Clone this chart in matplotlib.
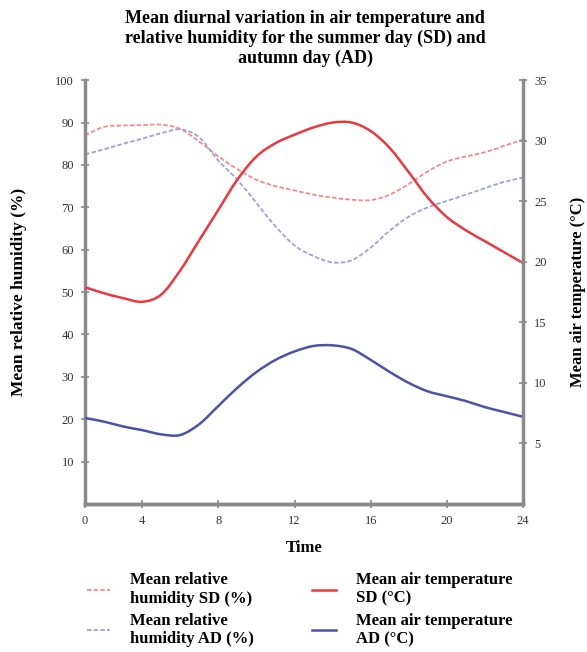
import numpy as np
import matplotlib.pyplot as plt
from matplotlib.path import Path
from matplotlib.patches import PathPatch
from matplotlib.lines import Line2D

# hourly readings (1..24 h), the first hour is labelled 0 on the axis
hours = np.arange(1, 25)

rh_sd = [87, 89, 89.3, 89.4, 89.5, 88.5, 85.5, 82, 79, 76.5, 75, 74,
         73, 72.3, 71.8, 71.7, 73, 75.5, 78.5, 80.8, 82, 83, 84.5, 86]
rh_ad = [82.5, 83.7, 85, 86.2, 87.5, 88.4, 86.5, 81, 76.5, 71, 65.5, 61,
         58.5, 57, 57.5, 60.5, 64.5, 67.8, 70, 71.5, 73, 74.5, 76, 77]
t_sd = [17.9, 17.4, 17.0, 16.7, 17.3, 19.3, 21.8, 24.3, 26.8, 28.7, 29.8, 30.5,
        31.1, 31.5, 31.5, 30.8, 29.4, 27.4, 25.3, 23.7, 22.6, 21.7, 20.8, 19.9]
t_ad = [7.1, 6.8, 6.4, 6.1, 5.75, 5.7, 6.6, 8.1, 9.6, 10.9, 11.9, 12.6,
        13.05, 13.1, 12.8, 11.9, 10.9, 10.0, 9.3, 8.9, 8.5, 8.0, 7.6, 7.2]

x_ticks = [1, 4, 8, 12, 16, 20, 24]
x_labels = ['0', '4', '8', '12', '16', '20', '24']
rh_ticks = [10, 20, 30, 40, 50, 60, 70, 80, 90, 100]
t_ticks = [5, 10, 15, 20, 25, 30, 35]

plt.rcParams['font.family'] = ['Liberation Serif', 'DejaVu Serif']

RED = '#e8393f'
BLUE = '#4b52a8'
RED_L = '#f28b8e'
BLUE_L = '#9ea2d6'
SPINE = '#8a8a8a'
DASH = (0, (2.5, 1.2))


def smooth_line(ax, x, y, **kw):
    # smoothed curve through the points (Catmull-Rom as cubic Bezier)
    p = np.column_stack([x, y]).astype(float)
    pp = np.vstack([p[0], p, p[-1]])
    verts = [p[0]]
    codes = [Path.MOVETO]
    for i in range(1, len(pp) - 2):
        c1 = pp[i] + (pp[i + 1] - pp[i - 1]) / 6
        c2 = pp[i + 1] - (pp[i + 2] - pp[i]) / 6
        verts += [c1, c2, pp[i + 1]]
        codes += [Path.CURVE4] * 3
    ax.add_patch(PathPatch(Path(verts, codes), fill=False, capstyle='butt', **kw))


fig = plt.figure(figsize=(5.87, 6.52), dpi=100)
ax = fig.add_axes([0.145, 0.227, 0.746, 0.65])
ax2 = ax.twinx()

smooth_line(ax, hours, rh_sd, edgecolor=RED_L, lw=1.3, ls=DASH)
smooth_line(ax, hours, rh_ad, edgecolor=BLUE_L, lw=1.3, ls=DASH)
smooth_line(ax2, hours, t_sd, edgecolor=RED, lw=1.8)
smooth_line(ax2, hours, t_ad, edgecolor=BLUE, lw=1.8)

handles = [
    Line2D([], [], color=RED_L, lw=1.3, ls=DASH, label='Mean relative\nhumidity SD (%)'),
    Line2D([], [], color=BLUE_L, lw=1.3, ls=DASH, label='Mean relative\nhumidity AD (%)'),
    Line2D([], [], color=RED, lw=1.8, label='Mean air temperature\nSD (°C)'),
    Line2D([], [], color=BLUE, lw=1.8, label='Mean air temperature\nAD (°C)'),
]

ax.set_xlim(1, 24)
ax.set_ylim(0, 100)
ax2.set_ylim(0, 35)
ax.set_xticks(x_ticks)
ax.set_xticklabels(x_labels)
ax.set_yticks(rh_ticks)
ax2.set_yticks(t_ticks)

for a in (ax, ax2):
    a.spines['top'].set_visible(False)
    for s in ('left', 'right', 'bottom'):
        a.spines[s].set_color(SPINE)
        a.spines[s].set_linewidth(2.5)
    a.tick_params(direction='inout', length=6, width=1.2, color=SPINE,
                  labelsize=9, labelcolor='#333333', pad=5)
ax2.spines['left'].set_visible(False)
ax.spines['right'].set_visible(False)

ax.set_xlabel('Time', fontsize=12, fontweight='bold')
ax.xaxis.set_label_coords(0.5, -0.085)
ax.set_ylabel('Mean relative humidity (%)', fontsize=12.5, fontweight='bold')
ax.yaxis.set_label_coords(-0.132, 0.5)
ax2.set_ylabel('Mean air temperature (°C)', fontsize=12, fontweight='bold')
ax2.yaxis.set_label_coords(1.108, 0.5)

fig.text(0.52, 0.984, 'Mean diurnal variation in air temperature and\n'
         'relative humidity for the summer day (SD) and\n'
         'autumn day (AD)', fontsize=13, fontweight='bold', ha='center',
         va='top', linespacing=1.2)

fig.legend(handles=handles, ncol=2, loc='upper left',
           bbox_to_anchor=(0.148, 0.122), frameon=False, borderpad=0,
           borderaxespad=0, prop={'weight': 'bold', 'size': 12},
           handlelength=1.4, handletextpad=1.2, columnspacing=3.5,
           labelspacing=0.35)

fig.savefig('out.png', dpi=100)
